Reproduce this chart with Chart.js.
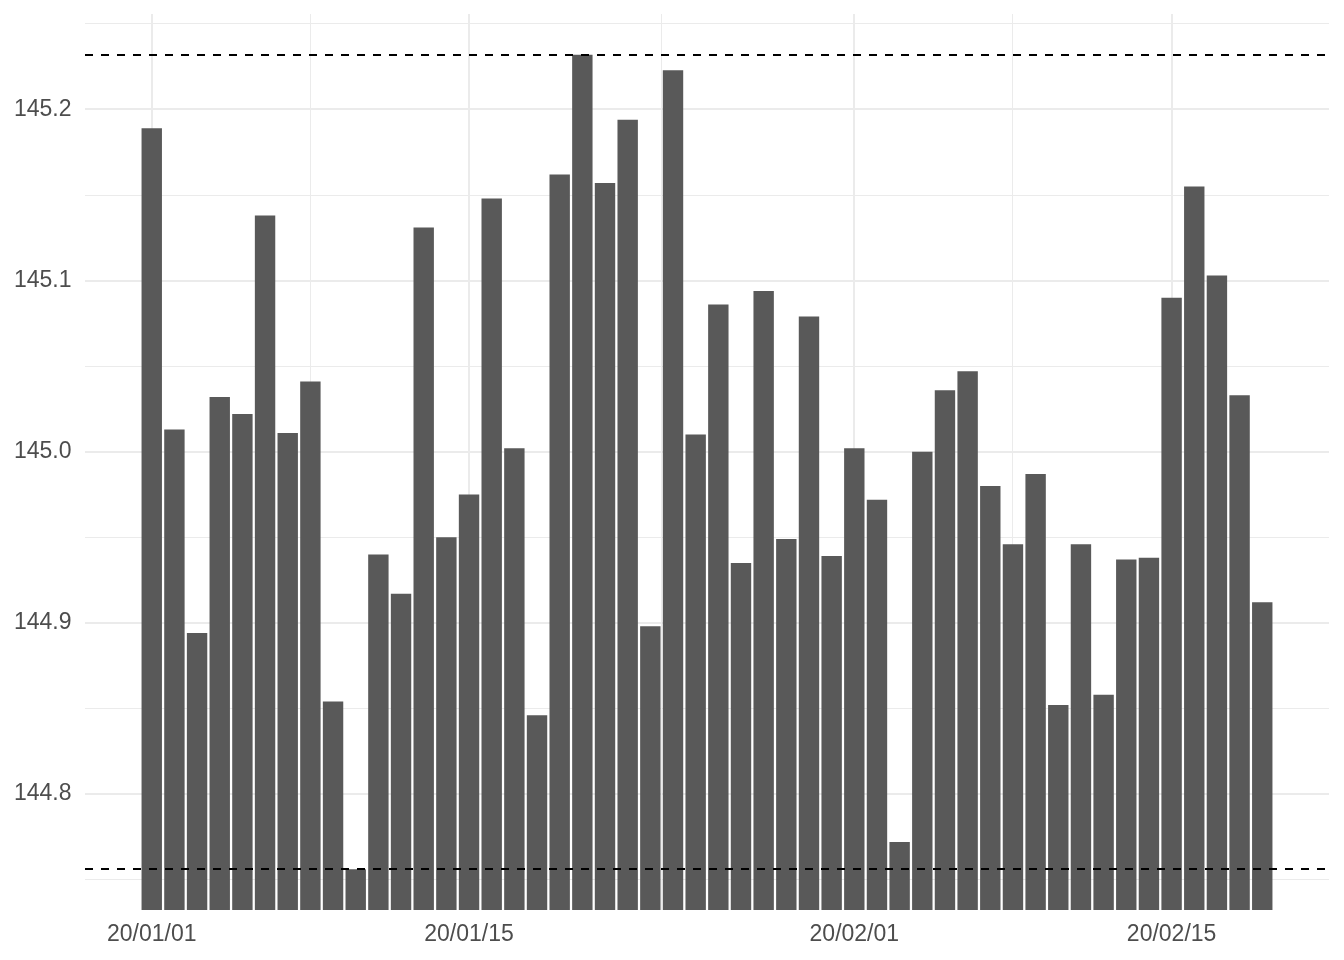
<!DOCTYPE html>
<html>
<head>
<meta charset="utf-8">
<script src="https://cdn.jsdelivr.net/npm/chart.js@4"></script>
<style>
  html, body { margin: 0; padding: 0; background: #ffffff; }
  #wrap { width: 1344px; height: 960px; }
</style>
</head>
<body>
<div id="wrap"><canvas id="myChart"></canvas></div>
<script>
// daily dates (yy/mm/dd)
const dates = [
    '20/01/01', '20/01/02', '20/01/03', '20/01/04', '20/01/05', '20/01/06', '20/01/07', '20/01/08', '20/01/09', '20/01/10',
    '20/01/11', '20/01/12', '20/01/13', '20/01/14', '20/01/15', '20/01/16', '20/01/17', '20/01/18', '20/01/19', '20/01/20',
    '20/01/21', '20/01/22', '20/01/23', '20/01/24', '20/01/25', '20/01/26', '20/01/27', '20/01/28', '20/01/29', '20/01/30',
    '20/01/31', '20/02/01', '20/02/02', '20/02/03', '20/02/04', '20/02/05', '20/02/06', '20/02/07', '20/02/08', '20/02/09',
    '20/02/10', '20/02/11', '20/02/12', '20/02/13', '20/02/14', '20/02/15', '20/02/16', '20/02/17', '20/02/18', '20/02/19'
];

const values = [
    145.189, 145.013, 144.894, 145.032, 145.022, 145.138, 145.011, 145.041, 144.854, 144.756,
    144.940, 144.917, 145.131, 144.950, 144.975, 145.148, 145.002, 144.846, 145.162, 145.232,
    145.157, 145.194, 144.898, 145.223, 145.010, 145.086, 144.935, 145.094, 144.949, 145.079,
    144.939, 145.002, 144.972, 144.772, 145.000, 145.036, 145.047, 144.980, 144.946, 144.987,
    144.852, 144.946, 144.858, 144.937, 144.938, 145.090, 145.155, 145.103, 145.033, 144.912
];

const xTickLabels = ['20/01/01', '20/01/15', '20/02/01', '20/02/15'];
const yMajorTicks = [144.8, 144.9, 145.0, 145.1, 145.2];
const yMinorTicks = [144.75, 144.85, 144.95, 145.05, 145.15, 145.25];

document.addEventListener("DOMContentLoaded", function() {
    const ctx = document.getElementById('myChart').getContext('2d');
    const textColor = '#4D4D4D';
    const gridColor = '#EBEBEB';
    const font = { family: "'Liberation Sans', Arial, sans-serif", size: 23 };

    // ggplot-like limits: data range plus 5% each side
    const yLo = Math.min(...values), yHi = Math.max(...values);
    const yPad = (yHi - yLo) * 0.05;
    const xLo = -0.45, xHi = dates.length - 1 + 0.45;
    const xPad = (xHi - xLo) * 0.05;

    const xMajor = xTickLabels.map(l => dates.indexOf(l));
    const xMinor = [];
    for (let i = 1; i < xMajor.length; i++) xMinor.push((xMajor[i - 1] + xMajor[i]) / 2);

    const isYMajor = v => yMajorTicks.some(t => Math.abs(t - v) < 1e-6);
    const isXMajor = v => xMajor.indexOf(v) !== -1;

    // dashed lines at the highest and lowest values
    const extremeLines = {
        id: 'extremeLines',
        afterDatasetsDraw(chart) {
            const c = chart.ctx, area = chart.chartArea, y = chart.scales.y;
            c.save();
            c.strokeStyle = '#000000';
            c.lineWidth = 2;
            c.setLineDash([8, 8]);
            [yHi, yLo].forEach(v => {
                const py = Math.round(y.getPixelForValue(v));
                c.beginPath();
                c.moveTo(area.left, py);
                c.lineTo(area.right, py);
                c.stroke();
            });
            c.restore();
        }
    };

    const data = {
        datasets: [{
            data: values.map((v, i) => ({ x: i, y: v })),
            backgroundColor: '#595959',
            borderWidth: 0,
            categoryPercentage: 1,
            barPercentage: 0.9
        }]
    };

    const options = {
        responsive: true,
        maintainAspectRatio: false,
        animation: false,
        layout: { padding: { top: 14, right: 15, left: 0, bottom: 0 } },
        plugins: {
            legend: { display: false },
            tooltip: { enabled: false }
        },
        scales: {
            x: {
                type: 'linear',
                offset: false,
                min: xLo - xPad,
                max: xHi + xPad,
                afterBuildTicks: scale => {
                    scale.ticks = xMajor.concat(xMinor).sort((a, b) => a - b).map(v => ({ value: v }));
                },
                afterFit: scale => { scale.height = 50; },
                border: { display: false },
                grid: {
                    offset: false,
                    drawTicks: false,
                    color: gridColor,
                    lineWidth: c => (c.tick && isXMajor(c.tick.value)) ? 2 : 1
                },
                ticks: {
                    autoSkip: false,
                    maxRotation: 0,
                    padding: 11,
                    color: textColor,
                    font: font,
                    callback: v => isXMajor(v) ? dates[v] : ''
                }
            },
            y: {
                type: 'linear',
                min: yLo - yPad,
                max: yHi + yPad,
                afterBuildTicks: scale => {
                    scale.ticks = yMinorTicks.concat(yMajorTicks).sort((a, b) => a - b).map(v => ({ value: v }));
                },
                afterFit: scale => {
                    scale.width = 85;
                    scale.paddingTop = 0;
                    scale.paddingBottom = 0;
                },
                border: { display: false },
                grid: {
                    drawTicks: false,
                    color: gridColor,
                    lineWidth: c => (c.tick && isYMajor(c.tick.value)) ? 2 : 1
                },
                ticks: {
                    autoSkip: false,
                    padding: 13.5,
                    color: textColor,
                    font: font,
                    callback: v => isYMajor(v) ? v.toFixed(1) : ''
                }
            }
        }
    };

    new Chart(ctx, {
        type: 'bar',
        data: data,
        options: options,
        plugins: [extremeLines]
    });
});
</script>
</body>
</html>
